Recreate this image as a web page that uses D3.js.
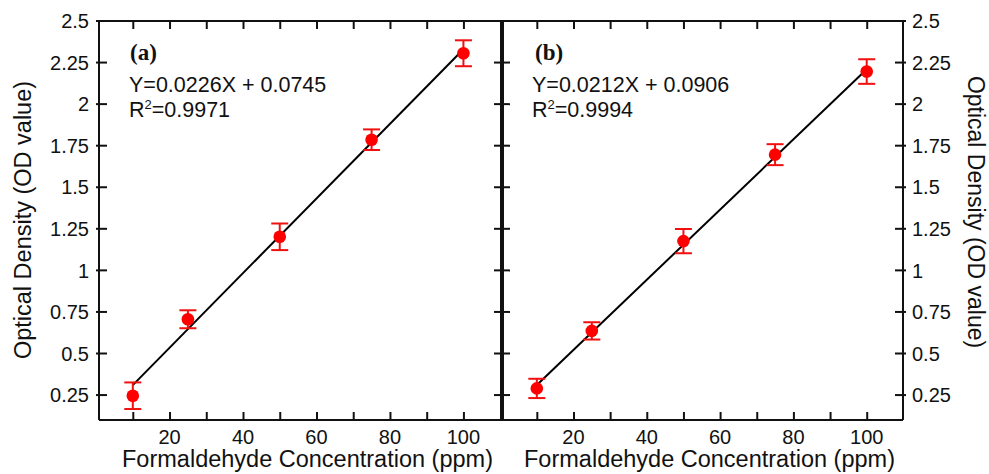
<!DOCTYPE html>
<html>
<head>
<meta charset="utf-8">
<script src="https://cdn.jsdelivr.net/npm/d3@7"></script>
<style>
    body { margin: 0; background: #fff; }
    svg text { font-family: 'Liberation Sans', Arial, sans-serif; fill: #111; }
    .panel-tag { font-family: 'Liberation Serif', 'Times New Roman', serif !important; font-weight: bold; }
</style>
</head>
<body>
<svg width="989" height="474"></svg>
<script>
// concentration (ppm) used in both panels
var concentrations = [ 10, 25, 50, 75, 100 ],
    // panel (a)
    odA       = [ 0.246, 0.706, 1.202, 1.786, 2.306 ],
    errA      = [ 0.080, 0.054, 0.080, 0.062, 0.078 ],
    fitA      = [ 0.31, 2.33 ],
    // panel (b)
    odB       = [ 0.290, 0.636, 1.176, 1.696, 2.196 ],
    errB      = [ 0.058, 0.052, 0.073, 0.063, 0.074 ],
    fitB      = [ 0.31, 2.21 ],
    fitX      = [ 10, 100 ],
    xTicks      = [ 10, 20, 30, 40, 50, 60, 70, 80, 90, 100 ],
    xTickLabels = [ 20, 40, 60, 80, 100 ],
    yTicks      = [ 0.25, 0.5, 0.75, 1, 1.25, 1.5, 1.75, 2, 2.25, 2.5 ],
    yTickLabels = [ '0.25', '0.5', '0.75', '1', '1.25', '1.5', '1.75', '2', '2.25', '2.5' ],
    panelTags   = [ '(a)', '(b)' ],
    equations   = [ 'Y=0.0226X + 0.0745', 'Y=0.0212X + 0.0906' ],
    rSquared    = [ '0.9971', '0.9994' ],
    xTitle      = 'Formaldehyde Concentration (ppm)',
    yTitle      = 'Optical Density (OD value)';

var svg        = d3.select( 'svg' ),
    plotTop    = 21,
    plotBottom = 420,
    y          = d3.scaleLinear().domain( [ 0.1, 2.5 ] ).range( [ plotBottom, plotTop ] );

var panels = [
    {
        left   : 99,
        right  : 502,
        domain : [ 0.8, 110.5 ],
        od     : odA,
        err    : errA,
        fit    : fitA,
        side   : 'left'
    },
    {
        left   : 502,
        right  : 903,
        domain : [ 0.5, 109.9 ],
        od     : odB,
        err    : errB,
        fit    : fitB,
        side   : 'right'
    }
];

panels.forEach( function( p, i ) {
    var x = d3.scaleLinear().domain( p.domain ).range( [ p.left, p.right ] ),
        g = svg.append( 'g' ),
        data = concentrations.map( function( c, j ) {
            return { x : c, y : p.od[ j ], e : p.err[ j ] };
        } );

    // x ticks inside, bottom and top
    g.append( 'g' )
        .attr( 'transform', 'translate(0,' + plotBottom + ')' )
        .call( d3.axisTop( x ).tickValues( xTicks ).tickSize( 8 ).tickFormat( '' ) )
        .call( function( a ) { a.select( '.domain' ).remove(); } );
    g.append( 'g' )
        .attr( 'transform', 'translate(0,' + plotTop + ')' )
        .call( d3.axisBottom( x ).tickValues( xTicks ).tickSize( 8 ).tickFormat( '' ) )
        .call( function( a ) { a.select( '.domain' ).remove(); } );

    g.selectAll( 'line' ).attr( 'stroke', '#111' ).attr( 'stroke-width', 2 );

    g.selectAll( '.xlab' )
        .data( xTickLabels )
        .enter().append( 'text' )
        .attr( 'class', 'xlab' )
        .attr( 'x', function( d ) { return x( d ); } )
        .attr( 'y', 444 )
        .attr( 'text-anchor', 'middle' )
        .style( 'font-size', '20px' )
        .text( function( d ) { return d; } );

    // y ticks on both vertical sides
    [ p.left, p.right ].forEach( function( ax, k ) {
        var inward = k === 0 ? 1 : -1,
            outer  = ( p.side === 'left' && k === 0 ) || ( p.side === 'right' && k === 1 ) ? 3 : 0;
        g.selectAll( null )
            .data( yTicks )
            .enter().append( 'line' )
            .attr( 'x1', ax - inward * outer )
            .attr( 'x2', ax + inward * 8 )
            .attr( 'y1', function( d ) { return y( d ); } )
            .attr( 'y2', function( d ) { return y( d ); } )
            .attr( 'stroke', '#111' )
            .attr( 'stroke-width', 2 );
    } );

    // y tick labels on the outer side
    g.selectAll( '.ylab' )
        .data( yTicks )
        .enter().append( 'text' )
        .attr( 'class', 'ylab' )
        .attr( 'x', p.side === 'left' ? p.left - 10 : p.right + 9 )
        .attr( 'y', function( d ) { return y( d ); } )
        .attr( 'dy', '0.36em' )
        .attr( 'text-anchor', p.side === 'left' ? 'end' : 'start' )
        .style( 'font-size', '20px' )
        .text( function( d, j ) { return yTickLabels[ j ]; } );

    // fit line
    g.append( 'line' )
        .attr( 'x1', x( fitX[ 0 ] ) )
        .attr( 'y1', y( p.fit[ 0 ] ) )
        .attr( 'x2', x( fitX[ 1 ] ) )
        .attr( 'y2', y( p.fit[ 1 ] ) )
        .attr( 'stroke', '#000' )
        .attr( 'stroke-width', 2 );

    // error bars
    var eb = g.selectAll( '.eb' )
        .data( data )
        .enter().append( 'g' )
        .attr( 'class', 'eb' )
        .attr( 'stroke', '#f01010' )
        .attr( 'stroke-width', 2 );
    eb.append( 'line' )
        .attr( 'x1', function( d ) { return x( d.x ); } )
        .attr( 'x2', function( d ) { return x( d.x ); } )
        .attr( 'y1', function( d ) { return y( d.y + d.e ); } )
        .attr( 'y2', function( d ) { return y( d.y - d.e ); } );
    [ 1, -1 ].forEach( function( s ) {
        eb.append( 'line' )
            .attr( 'x1', function( d ) { return x( d.x ) - 8.5; } )
            .attr( 'x2', function( d ) { return x( d.x ) + 8.5; } )
            .attr( 'y1', function( d ) { return y( d.y + s * d.e ); } )
            .attr( 'y2', function( d ) { return y( d.y + s * d.e ); } );
    } );

    g.selectAll( '.dot' )
        .data( data )
        .enter().append( 'circle' )
        .attr( 'class', 'dot' )
        .attr( 'cx', function( d ) { return x( d.x ); } )
        .attr( 'cy', function( d ) { return y( d.y ); } )
        .attr( 'r', 6.3 )
        .attr( 'fill', '#f00' );

    // texts inside the panel
    g.append( 'text' )
        .attr( 'class', 'panel-tag' )
        .attr( 'x', p.left + ( i === 0 ? 31 : 33 ) )
        .attr( 'y', 60 )
        .style( 'font-size', '23px' )
        .text( panelTags[ i ] );

    g.append( 'text' )
        .attr( 'x', p.left + 30 )
        .attr( 'y', 92 )
        .style( 'font-size', '21.5px' )
        .text( equations[ i ] );

    var r2 = g.append( 'text' )
        .attr( 'x', p.left + 30 )
        .attr( 'y', 117 )
        .style( 'font-size', '21.5px' );
    r2.append( 'tspan' ).text( 'R' );
    r2.append( 'tspan' ).attr( 'dy', -8 ).style( 'font-size', '13px' ).text( '2' );
    r2.append( 'tspan' ).attr( 'dy', 8 ).text( '=' + rSquared[ i ] );

    // x axis title
    g.append( 'text' )
        .attr( 'x', ( p.left + p.right ) / 2 + 7 )
        .attr( 'y', 467 )
        .attr( 'text-anchor', 'middle' )
        .style( 'font-size', '23.5px' )
        .text( xTitle );
} );

// frame lines
var frame = svg.append( 'g' ).attr( 'stroke', '#111' ).attr( 'fill', 'none' );
frame.append( 'line' ).attr( 'x1', 99 ).attr( 'x2', 903 ).attr( 'y1', plotTop ).attr( 'y2', plotTop ).attr( 'stroke-width', 2 );
frame.append( 'line' ).attr( 'x1', 99 ).attr( 'x2', 903 ).attr( 'y1', plotBottom ).attr( 'y2', plotBottom ).attr( 'stroke-width', 2 );
frame.append( 'line' ).attr( 'x1', 99 ).attr( 'x2', 99 ).attr( 'y1', plotTop ).attr( 'y2', plotBottom ).attr( 'stroke-width', 2 );
frame.append( 'line' ).attr( 'x1', 903 ).attr( 'x2', 903 ).attr( 'y1', plotTop ).attr( 'y2', plotBottom ).attr( 'stroke-width', 2 );
frame.append( 'line' ).attr( 'x1', 502 ).attr( 'x2', 502 ).attr( 'y1', plotTop ).attr( 'y2', plotBottom ).attr( 'stroke-width', 4 );

// y axis titles
svg.append( 'text' )
    .attr( 'transform', 'translate(31,220) rotate(-90)' )
    .attr( 'text-anchor', 'middle' )
    .style( 'font-size', '23.5px' )
    .text( yTitle );

svg.append( 'text' )
    .attr( 'transform', 'translate(968,212) rotate(90)' )
    .attr( 'text-anchor', 'middle' )
    .style( 'font-size', '23px' )
    .text( yTitle );
</script>
</body>
</html>
